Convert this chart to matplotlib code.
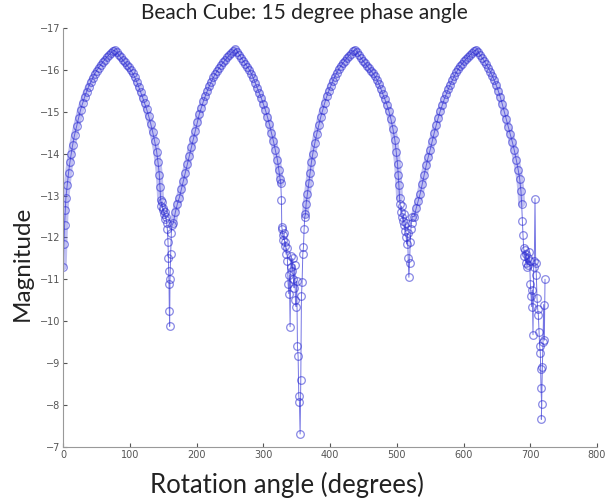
import numpy as np
import matplotlib
matplotlib.use("Agg")
import matplotlib.pyplot as plt

# Lobe 1, rising part (start of rotation)
ang_rise1 = [0, 1, 2, 3, 4, 6, 8, 10, 12, 14, 17, 20, 23, 26, 29, 32, 35, 38, 41, 44,
             47, 50, 53, 56, 59, 62, 65, 68, 71, 74, 77]
mag_rise1 = [-11.30, -11.85, -12.30, -12.65, -12.95, -13.25, -13.55, -13.80, -14.00, -14.20,
             -14.45, -14.65, -14.85, -15.05, -15.20, -15.35, -15.48, -15.60, -15.70, -15.80,
             -15.90, -15.98, -16.05, -16.12, -16.18, -16.24, -16.30, -16.35, -16.40, -16.45, -16.47]

# Lobe 1 falling part
ang_fall1 = [80, 83, 86, 89, 92, 95, 98, 101, 104, 107, 110, 113, 116, 119, 122, 125, 128,
             131, 134, 137, 140, 142, 144, 145, 146]
mag_fall1 = [-16.42, -16.36, -16.30, -16.24, -16.18, -16.12, -16.06, -16.00, -15.92, -15.83,
             -15.72, -15.60, -15.47, -15.34, -15.20, -15.06, -14.90, -14.72, -14.52, -14.30,
             -14.05, -13.80, -13.50, -13.20, -12.90]

# first trough
ang_trough1 = [147, 148, 149, 150, 151, 152, 153, 154, 155, 156, 157, 157.5, 158, 158.5,
               159, 159.5, 160, 161, 162, 163]
mag_trough1 = [-12.75, -12.85, -12.65, -12.70, -12.55, -12.60, -12.45, -12.50, -12.35, -12.20,
               -11.90, -11.50, -11.20, -10.90, -10.25, -9.88, -11.00, -11.60, -12.10, -12.30]

# Lobe 2 rising
ang_rise2 = [165, 168, 171, 174, 177, 180, 183, 186, 189, 192, 195, 198, 201, 204, 207, 210,
             213, 216, 219, 222, 225, 228, 231, 234, 237, 240, 243, 246, 249, 252, 255, 258]
mag_rise2 = [-12.35, -12.60, -12.80, -12.95, -13.15, -13.35, -13.55, -13.75, -13.95, -14.15,
             -14.35, -14.55, -14.75, -14.95, -15.10, -15.25, -15.38, -15.50, -15.62, -15.72,
             -15.82, -15.90, -15.98, -16.05, -16.12, -16.18, -16.24, -16.30, -16.35, -16.40,
             -16.45, -16.49]

# Lobe 2 falling
ang_fall2 = [261, 264, 267, 270, 273, 276, 279, 282, 285, 288, 291, 294, 297, 300, 303, 306,
             309, 312, 315, 318, 321, 323, 325, 326]
mag_fall2 = [-16.43, -16.36, -16.28, -16.21, -16.14, -16.07, -16.00, -15.91, -15.80, -15.68,
             -15.56, -15.44, -15.32, -15.18, -15.04, -14.88, -14.70, -14.50, -14.30, -14.08,
             -13.85, -13.62, -13.40, -13.30]

# second trough (deep spike)
ang_trough2 = [327, 327.5, 328, 329, 330, 331, 332, 333, 334, 335, 336, 337, 338, 339, 340,
               341, 342, 343, 344, 345, 346, 347, 348, 349, 350, 351, 352, 353, 354, 355, 356,
               357, 358, 359, 360, 361, 362]
mag_trough2 = [-12.90, -12.25, -12.20, -12.05, -11.95, -12.10, -11.80, -11.90, -11.60, -11.75,
               -11.45, -10.90, -10.66, -11.10, -9.87, -11.30, -11.55, -11.20, -11.50, -11.00,
               -10.80, -11.35, -10.50, -10.35, -10.95, -9.40, -9.16, -8.22, -8.07, -7.31, -8.60,
               -10.60, -10.94, -11.60, -11.77, -12.20, -12.50]

# Lobe 3 rising
ang_rise3 = [363, 364, 366, 368, 370, 372, 374, 377, 380, 383, 386, 389, 392, 395, 398, 401,
             404, 407, 410, 413, 416, 419, 422, 425, 428, 431, 434, 437]
mag_rise3 = [-12.55, -12.80, -13.05, -13.30, -13.55, -13.80, -14.00, -14.25, -14.48, -14.68,
             -14.88, -15.05, -15.22, -15.37, -15.50, -15.62, -15.73, -15.84, -15.93, -16.02,
             -16.09, -16.16, -16.22, -16.28, -16.34, -16.39, -16.44, -16.48]

# Lobe 3 falling
ang_fall3 = [440, 443, 446, 449, 452, 455, 458, 461, 464, 467, 470, 473, 476, 479, 482, 485,
             488, 491, 494, 497, 499, 501, 502, 503, 504]
mag_fall3 = [-16.43, -16.36, -16.29, -16.22, -16.16, -16.10, -16.04, -15.98, -15.92, -15.85,
             -15.77, -15.67, -15.55, -15.42, -15.30, -15.17, -15.02, -14.83, -14.60, -14.32,
             -14.05, -13.75, -13.50, -13.25, -12.95]

# third trough
ang_trough3 = [505, 506, 507, 508, 509, 510, 511, 512, 513, 514, 515, 516, 517, 518, 519, 520,
               521, 522, 523]
mag_trough3 = [-12.80, -12.60, -12.75, -12.50, -12.40, -12.55, -12.30, -12.15, -12.35, -12.00,
               -11.85, -12.10, -11.50, -11.05, -11.40, -11.90, -12.20, -12.35, -12.50]

# Lobe 4 rising
ang_rise4 = [526, 529, 532, 535, 538, 541, 544, 547, 550, 553, 556, 559, 562, 565, 568, 571,
             574, 577, 580, 583, 586, 589, 592, 595, 598, 601, 604, 607, 610, 613, 616, 619]
mag_rise4 = [-12.50, -12.70, -12.88, -13.05, -13.28, -13.50, -13.72, -13.92, -14.10, -14.30,
             -14.50, -14.68, -14.86, -15.02, -15.16, -15.30, -15.42, -15.54, -15.65, -15.75,
             -15.85, -15.94, -16.02, -16.09, -16.15, -16.21, -16.26, -16.31, -16.36, -16.41,
             -16.45, -16.48]

# Lobe 4 falling
ang_fall4 = [622, 625, 628, 631, 634, 637, 640, 643, 646, 649, 652, 655, 658, 661, 664, 667,
             670, 673, 676, 679, 682, 684, 686, 687]
mag_fall4 = [-16.42, -16.35, -16.28, -16.21, -16.13, -16.05, -15.96, -15.86, -15.75, -15.63,
             -15.50, -15.35, -15.18, -15.00, -14.82, -14.64, -14.46, -14.28, -14.08, -13.85,
             -13.60, -13.40, -13.10, -12.80]

# last trough
ang_trough4 = [688, 689, 690, 691, 692, 693, 694, 695, 696, 697, 698, 699, 700, 701, 702, 703,
               704, 705, 706, 707, 708, 709, 710, 711, 712, 713, 714, 715, 715.5, 716, 717,
               716.5, 718, 719, 720, 721, 722]
mag_trough4 = [-12.40, -12.06, -11.75, -11.55, -11.70, -11.40, -11.60, -11.30, -11.50, -11.35,
               -11.65, -11.45, -10.90, -10.60, -10.35, -10.75, -9.68, -11.30, -11.45, -12.93,
               -11.40, -11.10, -10.55, -10.30, -10.15, -9.75, -9.40, -9.25, -8.85, -8.40, -8.02,
               -7.66, -8.90, -9.50, -10.40, -9.55, -11.00]

smooth_parts = [(ang_rise1 + ang_fall1, mag_rise1 + mag_fall1),
                (ang_rise2 + ang_fall2, mag_rise2 + mag_fall2),
                (ang_rise3 + ang_fall3, mag_rise3 + mag_fall3),
                (ang_rise4 + ang_fall4, mag_rise4 + mag_fall4)]

angle = (ang_rise1 + ang_fall1 + ang_trough1 + ang_rise2 + ang_fall2 + ang_trough2 +
         ang_rise3 + ang_fall3 + ang_trough3 + ang_rise4 + ang_fall4 + ang_trough4)
magnitude = (mag_rise1 + mag_fall1 + mag_trough1 + mag_rise2 + mag_fall2 + mag_trough2 +
             mag_rise3 + mag_fall3 + mag_trough3 + mag_rise4 + mag_fall4 + mag_trough4)

xticks = [0, 100, 200, 300, 400, 500, 600, 700, 800]
yticks = [-17, -16, -15, -14, -13, -12, -11, -10, -9, -8, -7]

fig = plt.figure(figsize=(6.08, 5.0), dpi=100)
ax = fig.add_axes([0.104, 0.106, 0.878, 0.838])

# dense band look of the smooth lobes
for xs, ys in smooth_parts:
    ax.plot(xs, ys, '-', color='#6a6ae0', lw=5, alpha=0.42, solid_capstyle='round')
ax.plot(angle, magnitude, '-', color='#3a3ad8', lw=0.7, alpha=0.7)
ax.plot(angle, magnitude, 'o', mfc='none', mec='#2a2ad0', mew=0.9, ms=5.5, alpha=0.55)

ax.set_xlim(0, 800)
ax.set_ylim(-7, -17)
ax.set_xticks(xticks)
ax.set_yticks(yticks)
ax.tick_params(direction='in', length=3, labelsize=7, colors='#555555', pad=2)
for side in ['top', 'right']:
    ax.spines[side].set_visible(False)
for side in ['left', 'bottom']:
    ax.spines[side].set_color('#999999')
    ax.spines[side].set_linestyle((0, (1, 1)))

fig.text(0.5, 0.974, 'Beach Cube: 15 degree phase angle', ha='center', va='center',
         fontsize=15, family='Lato', color='#222222')
fig.text(0.472, 0.03, 'Rotation angle (degrees)', ha='center', va='center',
         fontsize=18.5, family='Lato', color='#222222')
fig.text(0.036, 0.474, 'Magnitude', ha='center', va='center', rotation=90,
         fontsize=17.5, family='Lato', color='#222222')

fig.savefig('out.png', dpi=100)
